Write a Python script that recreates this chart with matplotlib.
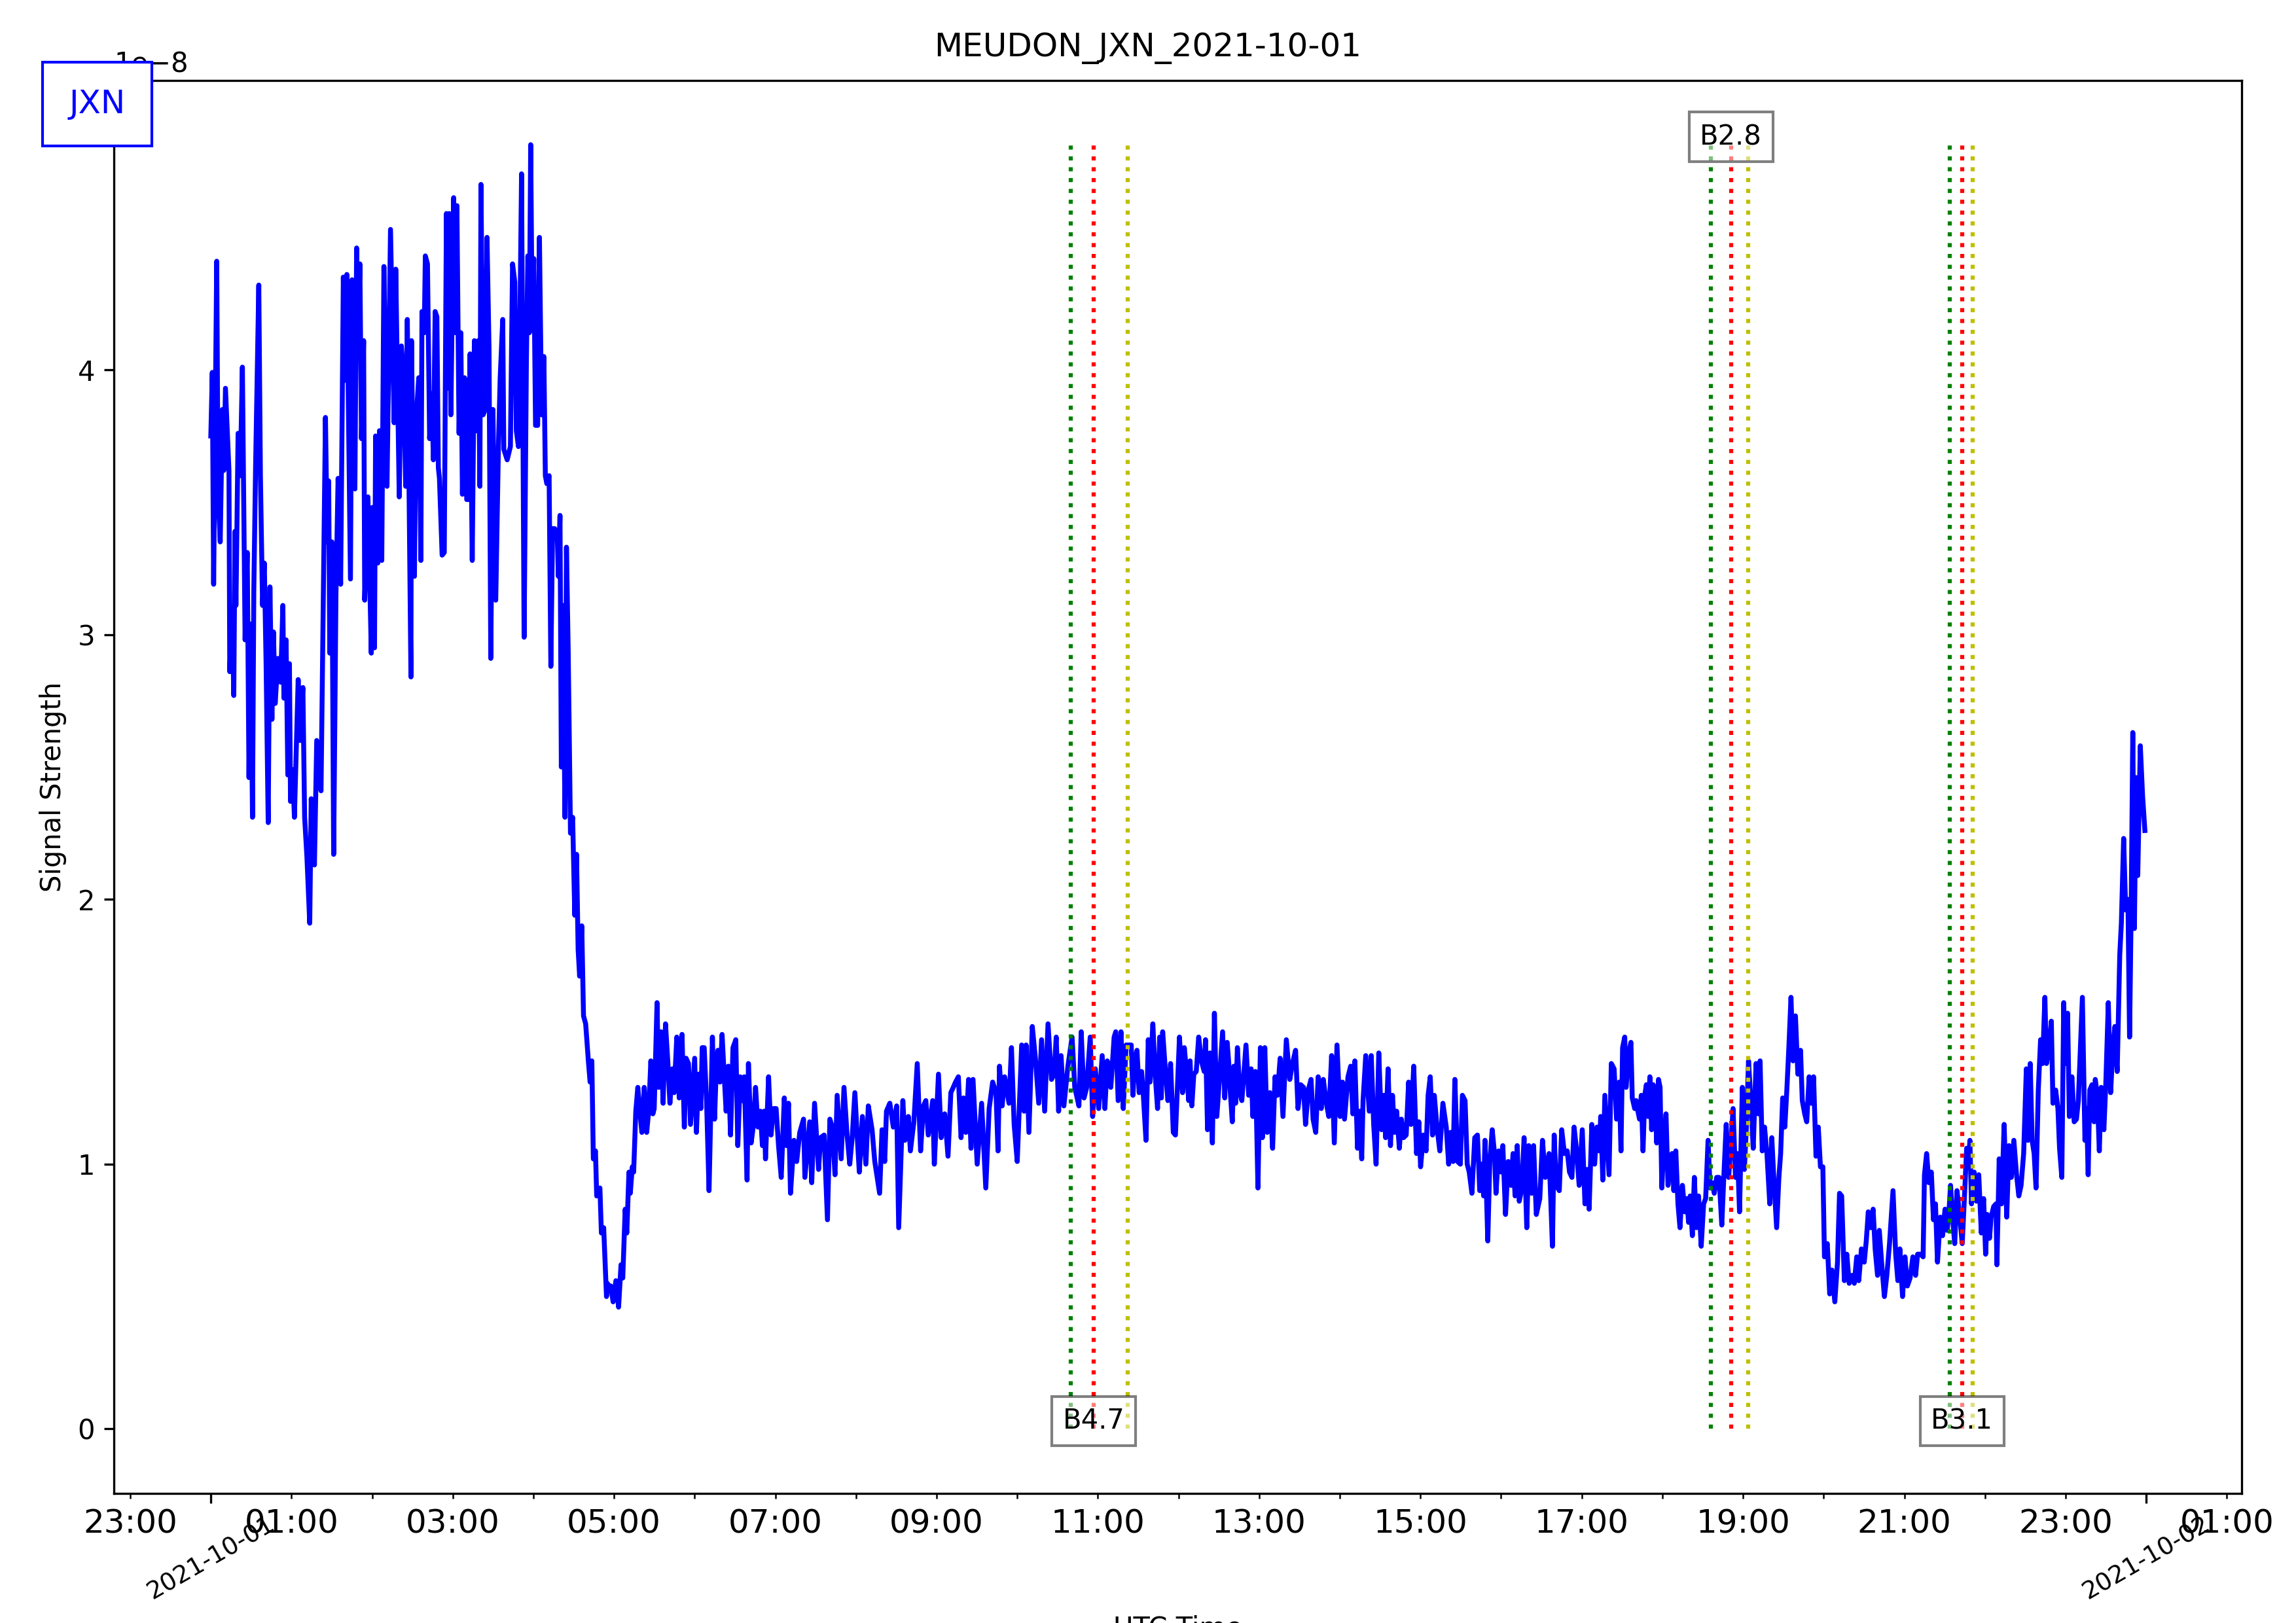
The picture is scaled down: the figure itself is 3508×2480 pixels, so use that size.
import matplotlib
matplotlib.use('Agg')
import matplotlib.pyplot as plt
import matplotlib.dates as mdates
from matplotlib.ticker import FuncFormatter
import numpy as np
import pandas as pd

day = '2021-10-01'
station = 'JXN'

# minutes after 00:00 UTC / signal (x1e-8) in pieces
# 00:00 - 02:30
min_a = [0.0, 1.1, 2.1, 4.4, 5.4, 7.0, 8.6, 9.7, 10.9, 13.5,
         14.1, 15.8, 17.1, 18.0, 18.7, 20.3, 21.9, 23.5, 25.5, 27.1,
         28.4, 29.7, 31.0, 32.0, 33.3, 35.7, 36.9, 38.5, 39.8, 41.1,
         42.7, 44.0, 45.5, 46.6, 47.9, 49.9, 52.0, 53.6, 54.4, 56.0,
         57.3, 58.5, 59.3, 60.9, 62.2, 65.0, 66.6, 68.5, 69.8, 71.5,
         73.6, 74.7, 77.1, 78.8, 82.0, 85.3, 86.6, 87.7, 88.5, 90.1,
         91.4, 93.1, 94.7, 96.6, 98.6, 100.2, 101.2, 103.9, 105.1, 107.2,
         108.5, 109.6, 110.9, 112.1, 113.7, 114.5, 116.9, 119.4, 120.2, 121.8,
         122.6, 124.2, 125.5, 127.2, 128.8, 131.1, 133.7, 136.4, 137.6, 140.2,
         141.8, 143.4, 145.0, 146.2, 148.9]
sig_a = [3.75, 3.99, 3.19, 4.41, 3.54, 3.35, 3.85, 3.62, 3.93, 3.62,
         2.86, 3.10, 2.77, 3.39, 3.11, 3.76, 3.60, 4.01, 2.98, 3.31,
         2.46, 3.04, 2.31, 3.17, 3.63, 4.32, 3.60, 3.11, 3.27, 2.90,
         2.29, 3.18, 2.68, 3.01, 2.74, 2.91, 2.82, 3.11, 2.76, 2.98,
         2.47, 2.89, 2.37, 2.49, 2.31, 2.83, 2.60, 2.80, 2.31, 2.16,
         1.91, 2.38, 2.13, 2.60, 2.41, 3.82, 3.35, 3.58, 2.93, 3.35,
         2.17, 3.15, 3.59, 3.19, 4.35, 3.96, 4.36, 3.21, 4.34, 3.55,
         4.46, 4.09, 4.40, 3.74, 4.11, 3.13, 3.52, 2.93, 3.48, 2.95,
         3.75, 3.27, 3.77, 3.28, 4.39, 3.56, 4.53, 3.80, 4.38, 3.52,
         4.09, 3.98, 3.56, 4.19, 2.84]

# 02:30 - 04:55 (sunrise drop)
min_b = [149.3, 151.5, 152.6, 154.7, 156.3, 157.1, 158.8, 159.6, 161.2, 162.8,
         164.4, 165.6, 166.9, 168.2, 169.3, 170.1, 172.1, 173.7, 175.3, 176.6,
         177.4, 178.6, 180.7, 181.8, 183.1, 184.7, 186.0, 187.2, 188.8, 190.4,
         191.6, 192.9, 194.5, 196.1, 197.7, 199.0, 200.2, 201.0, 202.6, 204.2,
         205.5, 207.0, 208.3, 209.9, 212.0, 214.0, 215.3, 217.2, 218.0, 220.5,
         222.9, 224.5, 226.2, 227.3, 228.9, 229.9, 231.2, 233.1, 234.8, 235.9,
         237.0, 238.0, 239.1, 240.3, 241.6, 243.2, 244.5, 246.1, 247.8, 248.9,
         250.0, 251.7, 253.0, 254.3, 255.9, 257.8, 258.6, 259.8, 260.8, 261.9,
         263.5, 264.6, 265.9, 267.6, 269.2, 270.8, 272.1, 273.3, 274.4, 276.0,
         277.3, 278.9, 280.9, 282.2, 283.5, 284.6, 286.2, 287.1, 289.5, 290.6,
         292.3, 294.4]
sig_b = [4.11, 3.22, 3.80, 3.97, 3.28, 4.22, 4.14, 4.43, 4.40, 3.74,
         3.91, 3.66, 4.22, 4.20, 3.63, 3.59, 3.30, 3.31, 4.59, 3.93,
         4.59, 3.83, 4.65, 4.14, 4.62, 3.76, 4.14, 3.53, 3.97, 3.51,
         3.51, 4.06, 3.28, 4.11, 3.77, 4.11, 3.56, 4.70, 3.83, 3.85,
         4.50, 4.08, 2.91, 3.85, 3.13, 3.71, 3.97, 4.19, 3.70, 3.66,
         3.71, 4.40, 4.33, 3.77, 3.71, 4.14, 4.74, 2.99, 4.03, 4.43,
         4.14, 4.85, 4.16, 4.42, 3.79, 3.79, 4.50, 3.83, 4.05, 3.60,
         3.57, 3.60, 2.88, 3.40, 3.40, 3.37, 3.22, 3.45, 2.50, 3.11,
         2.31, 3.33, 2.94, 2.25, 2.31, 1.94, 2.17, 1.81, 1.71, 1.90,
         1.56, 1.53, 1.39, 1.31, 1.39, 1.02, 1.05, 0.88, 0.91, 0.74,
         0.76, 0.50]

# 04:55 - 11:10
min_c = [295.0, 296.3, 297.6, 299.3, 301.4, 303.4, 305.2, 306.5, 308.3, 309.5,
         311.1, 312.1, 313.6, 314.6, 316.2, 317.7, 319.2, 320.7, 322.5, 324.3,
         325.8, 327.4, 328.9, 329.9, 332.0, 333.2, 335.0, 336.5, 338.3, 340.1,
         341.6, 343.4, 344.7, 346.7, 348.5, 350.6, 352.3, 353.6, 355.4, 356.9,
         360.0, 361.3, 363.0, 364.6, 365.6, 367.1, 368.9, 370.7, 373.2, 374.8,
         376.0, 377.3, 378.8, 380.4, 381.6, 383.4, 385.0, 386.7, 388.5, 390.6,
         392.1, 393.9, 395.6, 396.9, 399.0, 400.0, 402.0, 403.8, 405.3, 407.1,
         408.9, 410.4, 411.7, 412.7, 415.0, 416.8, 418.6, 420.6, 422.4, 424.4,
         426.7, 428.3, 429.8, 431.3, 433.9, 435.9, 438.2, 441.0, 442.0, 445.6,
         447.1, 449.2, 452.2, 453.7, 456.3, 458.8, 460.6, 462.4, 464.4, 466.0,
         469.0, 471.1, 473.4, 475.4, 477.2, 479.2, 481.0, 482.5, 484.8, 487.4,
         489.2, 492.0, 494.0, 497.6, 499.4, 501.4, 502.7, 505.2, 507.8, 510.3,
         511.8, 514.9, 516.4, 519.0, 520.5, 523.1, 525.6, 528.1, 530.2, 532.0,
         533.8, 537.1, 538.3, 541.4, 543.4, 546.0, 548.5, 550.6, 552.4, 554.1,
         556.2, 558.2, 560.0, 561.8, 563.8, 565.6, 567.1, 570.2, 573.5, 576.6,
         579.1, 581.7, 584.2, 585.7, 586.8, 588.8, 590.6, 593.9, 595.7, 597.7,
         600.0, 602.0, 603.3, 605.1, 606.6, 608.7, 611.2, 613.5, 616.0, 618.1,
         620.4, 622.9, 625.5, 627.5, 629.0, 630.8, 632.6, 634.7, 637.7, 640.8,
         642.8, 645.9, 647.6, 649.7, 651.7, 654.3, 656.1, 658.1, 660.6, 663.2,
         665.2, 667.0, 669.6]
sig_c = [0.55, 0.54, 0.54, 0.48, 0.56, 0.46, 0.62, 0.57, 0.83, 0.74,
         0.97, 0.89, 0.99, 0.97, 1.20, 1.29, 1.20, 1.12, 1.29, 1.12,
         1.20, 1.39, 1.19, 1.21, 1.61, 1.29, 1.50, 1.23, 1.53, 1.38,
         1.23, 1.36, 1.27, 1.48, 1.25, 1.49, 1.14, 1.40, 1.38, 1.15,
         1.40, 1.12, 1.34, 1.21, 1.44, 1.44, 1.23, 0.90, 1.48, 1.17,
         1.35, 1.43, 1.31, 1.49, 1.37, 1.20, 1.37, 1.11, 1.44, 1.47,
         1.07, 1.33, 1.24, 1.33, 0.94, 1.38, 1.08, 1.15, 1.29, 1.14,
         1.20, 1.07, 1.20, 1.02, 1.33, 1.11, 1.21, 1.21, 1.07, 0.95,
         1.25, 1.07, 1.23, 0.89, 1.09, 1.01, 1.12, 1.17, 0.95, 1.16,
         0.93, 1.23, 0.98, 1.10, 1.11, 0.79, 1.17, 1.14, 0.96, 1.26,
         1.02, 1.29, 1.11, 1.00, 1.10, 1.27, 1.10, 0.97, 1.18, 1.00,
         1.22, 1.13, 1.01, 0.89, 1.13, 1.01, 1.20, 1.23, 1.14, 1.22,
         0.76, 1.24, 1.09, 1.18, 1.05, 1.16, 1.38, 1.05, 1.22, 1.24,
         1.11, 1.24, 1.00, 1.34, 1.10, 1.19, 1.03, 1.27, 1.29, 1.31,
         1.33, 1.10, 1.25, 1.12, 1.32, 1.06, 1.32, 1.00, 1.23, 0.91,
         1.21, 1.31, 1.27, 1.05, 1.37, 1.22, 1.33, 1.23, 1.44, 1.15,
         1.01, 1.28, 1.45, 1.20, 1.45, 1.12, 1.52, 1.40, 1.23, 1.47,
         1.20, 1.53, 1.32, 1.34, 1.48, 1.20, 1.41, 1.22, 1.37, 1.48,
         1.29, 1.22, 1.50, 1.25, 1.29, 1.48, 1.18, 1.36, 1.21, 1.41,
         1.21, 1.39, 1.29]

# 11:10 - 17:40
min_d = [670.3, 672.1, 673.3, 675.1, 677.2, 678.9, 681.0, 683.0, 684.8, 686.1,
         687.4, 689.1, 690.7, 692.5, 693.7, 695.8, 697.5, 698.8, 700.9, 702.6,
         704.4, 706.0, 707.2, 708.2, 710.3, 712.1, 714.1, 716.1, 717.7, 719.2,
         720.7, 723.0, 724.3, 726.3, 727.6, 728.6, 729.9, 731.4, 733.2, 735.0,
         737.0, 739.1, 740.1, 741.6, 743.4, 745.2, 746.7, 748.5, 750.3, 752.8,
         754.4, 756.2, 757.4, 758.7, 760.0, 761.2, 762.5, 763.8, 765.6, 767.1,
         768.9, 770.2, 772.2, 774.0, 775.3, 777.3, 779.1, 780.9, 782.4, 784.2,
         786.0, 788.0, 790.0, 791.8, 793.6, 795.6, 797.7, 800.2, 802.8, 804.8,
         807.1, 808.9, 810.9, 813.0, 814.5, 816.5, 818.6, 820.1, 822.1, 823.9,
         826.2, 827.7, 830.0, 831.8, 833.9, 835.9, 837.9, 840.2, 842.0, 843.5,
         846.1, 848.1, 849.7, 851.2, 853.2, 854.8, 856.3, 857.3, 859.3, 861.9,
         863.4, 865.2, 867.0, 869.0, 871.1, 872.8, 874.1, 875.9, 877.7, 879.2,
         880.7, 882.3, 884.3, 885.8, 887.4, 889.4, 891.2, 893.0, 895.0, 897.1,
         898.8, 900.1, 902.2, 904.2, 905.7, 907.3, 909.0, 910.3, 912.3, 914.4,
         916.7, 919.2, 921.0, 922.5, 924.3, 925.6, 927.6, 929.7, 931.2, 933.2,
         934.8, 936.3, 938.3, 940.4, 942.4, 944.1, 945.5, 947.0, 948.0, 950.1,
         951.6, 953.4, 955.1, 956.2, 958.2, 960.2, 961.3, 963.3, 965.3, 967.4,
         968.9, 970.4, 972.0, 973.5, 975.5, 977.1, 979.1, 980.6, 982.7, 984.2,
         986.2, 988.8, 990.8, 992.9, 995.7, 998.2, 999.5, 1001.0, 1003.3, 1005.1,
         1007.1, 1009.2, 1010.9, 1012.7, 1014.3, 1016.0, 1018.1, 1020.4, 1022.4, 1024.0,
         1025.5, 1027.5, 1029.6, 1031.3, 1033.1, 1034.1, 1035.7, 1037.2, 1040.3, 1042.0,
         1044.1, 1045.9, 1047.9, 1049.2, 1050.4, 1052.0, 1053.0, 1055.0, 1056.6, 1057.6,
         1059.4]
sig_d = [1.34, 1.48, 1.50, 1.24, 1.50, 1.21, 1.45, 1.45, 1.45, 1.26,
         1.39, 1.43, 1.27, 1.35, 1.27, 1.09, 1.47, 1.31, 1.53, 1.34,
         1.21, 1.48, 1.25, 1.50, 1.35, 1.24, 1.38, 1.12, 1.11, 1.29,
         1.48, 1.27, 1.44, 1.33, 1.24, 1.39, 1.22, 1.34, 1.35, 1.48,
         1.39, 1.35, 1.47, 1.13, 1.42, 1.08, 1.57, 1.18, 1.31, 1.50,
         1.25, 1.46, 1.38, 1.26, 1.16, 1.37, 1.23, 1.44, 1.27, 1.24,
         1.36, 1.45, 1.26, 1.36, 1.18, 1.35, 0.91, 1.44, 1.10, 1.44,
         1.12, 1.27, 1.06, 1.33, 1.26, 1.40, 1.18, 1.47, 1.32, 1.38,
         1.43, 1.21, 1.30, 1.29, 1.15, 1.28, 1.32, 1.17, 1.12, 1.33,
         1.21, 1.32, 1.23, 1.18, 1.41, 1.08, 1.45, 1.18, 1.31, 1.17,
         1.33, 1.37, 1.19, 1.39, 1.06, 1.20, 1.02, 1.24, 1.41, 1.20,
         1.41, 1.15, 1.00, 1.42, 1.13, 1.26, 1.10, 1.36, 1.07, 1.26,
         1.12, 1.20, 1.06, 1.17, 1.10, 1.11, 1.31, 1.15, 1.37, 1.04,
         1.16, 0.99, 1.11, 1.05, 1.26, 1.33, 1.11, 1.26, 1.14, 1.05,
         1.23, 1.14, 1.00, 1.12, 1.01, 1.32, 1.01, 1.00, 1.26, 1.24,
         1.00, 0.97, 0.89, 1.10, 1.11, 0.90, 1.00, 0.88, 1.09, 0.71,
         1.01, 1.13, 1.04, 0.89, 1.05, 0.97, 1.07, 0.81, 1.01, 0.92,
         1.04, 0.88, 1.07, 0.86, 0.91, 1.10, 0.76, 1.07, 0.89, 1.07,
         0.81, 0.87, 1.09, 0.95, 1.04, 0.69, 1.11, 0.92, 0.90, 1.13,
         1.04, 1.05, 0.97, 0.95, 1.14, 1.06, 0.92, 1.13, 0.85, 0.98,
         0.83, 1.15, 1.00, 1.14, 1.05, 1.18, 0.94, 1.26, 0.96, 1.38,
         1.36, 1.17, 1.31, 1.05, 1.44, 1.48, 1.29, 1.42, 1.46, 1.25,
         1.21]

# 17:40 - 24:00
min_e = [1060.5, 1061.8, 1063.0, 1064.3, 1065.6, 1066.9, 1068.1, 1069.4, 1070.7, 1072.0,
         1073.2, 1074.5, 1075.8, 1077.1, 1078.3, 1079.6, 1080.9, 1082.7, 1084.2, 1086.0,
         1087.2, 1088.5, 1090.0, 1091.6, 1093.1, 1094.9, 1096.7, 1098.2, 1099.5, 1100.7,
         1102.3, 1103.8, 1105.3, 1106.9, 1108.9, 1110.7, 1112.2, 1114.0, 1115.5, 1117.1,
         1118.6, 1120.4, 1122.2, 1124.2, 1125.7, 1127.5, 1129.3, 1130.8, 1132.6, 1134.4,
         1135.9, 1137.4, 1139.5, 1141.0, 1142.5, 1144.1, 1145.8, 1147.6, 1149.7, 1151.5,
         1152.7, 1154.3, 1156.0, 1157.8, 1159.9, 1161.4, 1162.9, 1165.0, 1166.7, 1168.0,
         1169.5, 1171.1, 1172.6, 1174.1, 1175.7, 1177.2, 1179.0, 1180.8, 1182.8, 1184.1,
         1185.9, 1187.4, 1189.2, 1191.0, 1192.5, 1194.3, 1196.0, 1197.6, 1199.4, 1200.6,
         1202.7, 1204.5, 1206.2, 1208.3, 1210.3, 1211.8, 1213.4, 1215.4, 1217.2, 1219.0,
         1221.0, 1222.8, 1224.6, 1226.1, 1228.1, 1230.2, 1231.7, 1233.2, 1235.0, 1236.8,
         1238.3, 1240.1, 1241.4, 1243.4, 1245.2, 1247.0, 1249.0, 1251.6, 1253.6, 1255.2,
         1256.7, 1258.7, 1260.5, 1262.3, 1264.3, 1266.4, 1268.4, 1269.9, 1272.0, 1274.0,
         1275.0, 1276.6, 1278.3, 1280.1, 1281.7, 1283.2, 1284.7, 1286.8, 1288.5, 1290.3,
         1291.9, 1293.1, 1294.4, 1296.2, 1297.5, 1299.2, 1301.3, 1303.1, 1304.6, 1306.4,
         1307.6, 1308.8, 1310.0, 1312.0, 1313.7, 1315.4, 1317.3, 1319.0, 1320.5, 1321.7,
         1323.4, 1324.6, 1326.5, 1328.2, 1328.9, 1330.6, 1332.3, 1334.3, 1336.2, 1337.9,
         1339.6, 1341.5, 1343.5, 1345.2, 1346.9, 1348.8, 1350.8, 1352.0, 1353.7, 1355.1,
         1356.6, 1358.0, 1359.7, 1361.4, 1362.9, 1364.6, 1365.8, 1367.7, 1369.4, 1370.6,
         1372.6, 1374.3, 1375.5, 1377.2, 1378.6, 1379.8, 1381.5, 1382.8, 1384.7, 1386.4,
         1388.1, 1389.5, 1391.2, 1392.5, 1394.4, 1395.6, 1396.8, 1398.0, 1399.7, 1401.2,
         1402.1, 1403.6, 1405.1, 1406.5, 1408.5, 1409.9, 1411.8, 1413.5, 1415.2, 1416.7,
         1418.4, 1420.3, 1421.5, 1423.2, 1424.7, 1426.4, 1427.6, 1428.8, 1430.0, 1431.2,
         1432.5, 1433.7, 1435.6, 1437.3, 1439.0]
sig_e = [1.24, 1.20, 1.17, 1.26, 1.05, 1.26, 1.30, 1.18, 1.33, 1.13,
         1.30, 1.25, 1.08, 1.32, 1.29, 0.91, 1.06, 1.19, 0.92, 1.03,
         1.04, 0.90, 1.05, 0.85, 0.76, 0.92, 0.82, 0.87, 0.78, 0.88,
         0.73, 0.95, 0.76, 0.88, 0.69, 0.85, 0.87, 1.09, 0.91, 0.93,
         0.89, 0.95, 0.95, 0.77, 0.95, 1.15, 0.95, 1.06, 1.21, 0.95,
         1.04, 0.82, 1.29, 0.98, 1.14, 1.39, 1.24, 1.06, 1.38, 1.19,
         1.39, 1.05, 1.14, 1.04, 0.85, 1.10, 0.95, 0.76, 0.95, 1.04,
         1.25, 1.14, 1.28, 1.44, 1.63, 1.39, 1.56, 1.34, 1.43, 1.24,
         1.19, 1.16, 1.33, 1.23, 1.33, 1.03, 1.14, 0.99, 0.99, 0.65,
         0.70, 0.51, 0.60, 0.48, 0.63, 0.89, 0.88, 0.56, 0.66, 0.55,
         0.58, 0.55, 0.65, 0.56, 0.68, 0.63, 0.71, 0.82, 0.76, 0.83,
         0.68, 0.58, 0.75, 0.61, 0.50, 0.58, 0.70, 0.90, 0.66, 0.56,
         0.68, 0.50, 0.65, 0.54, 0.57, 0.65, 0.58, 0.66, 0.66, 0.65,
         0.96, 1.04, 0.93, 0.97, 0.79, 0.85, 0.63, 0.80, 0.73, 0.83,
         0.75, 0.81, 0.92, 0.78, 0.70, 0.90, 0.80, 0.70, 0.86, 1.06,
         0.99, 1.09, 0.85, 0.97, 0.86, 0.96, 0.74, 0.87, 0.66, 0.81,
         0.72, 0.80, 0.84, 0.85, 0.62, 1.02, 0.85, 1.15, 0.80, 1.07,
         0.95, 1.09, 0.96, 0.88, 0.92, 1.04, 1.36, 1.09, 1.38, 1.09,
         1.04, 0.91, 1.28, 1.47, 1.38, 1.63, 1.38, 1.44, 1.54, 1.23,
         1.28, 1.21, 1.06, 0.95, 1.61, 1.38, 1.57, 1.18, 1.33, 1.16,
         1.17, 1.24, 1.46, 1.63, 1.09, 1.21, 0.96, 1.28, 1.30, 1.16,
         1.32, 1.26, 1.05, 1.29, 1.13, 1.30, 1.61, 1.27, 1.44, 1.52,
         1.35, 1.79, 1.91, 2.23, 1.96, 2.00, 1.48, 1.96, 2.63, 1.89,
         2.46, 2.09, 2.58, 2.39, 2.26]

# GOES flares of the day
flare_class = ['B4.7', 'B2.8', 'B3.1']
flare_start = ['10:40', '18:36', '21:34']
flare_peak = ['10:57', '18:51', '21:43']
flare_end = ['11:22', '19:04', '21:51']

minutes = min_a + min_b + min_c + min_d + min_e
signal = np.array(sig_a + sig_b + sig_c + sig_d + sig_e) * 1e-8
times = pd.Timestamp(day) + pd.to_timedelta(minutes, unit='min')
x = mdates.date2num(times.to_pydatetime())

fig, ax = plt.subplots(figsize=(3508 / 300, 2480 / 300), dpi=300)
fig.subplots_adjust(left=0.0497, right=0.9763, bottom=0.080, top=0.9504)

ax.plot(x, signal, 'b-', linewidth=1.8)

top = signal.max()
for i in range(len(flare_class)):
    t_start = mdates.date2num(pd.Timestamp(day + ' ' + flare_start[i]).to_pydatetime())
    t_peak = mdates.date2num(pd.Timestamp(day + ' ' + flare_peak[i]).to_pydatetime())
    t_end = mdates.date2num(pd.Timestamp(day + ' ' + flare_end[i]).to_pydatetime())
    ax.plot([t_start, t_start], [0, top], 'g:', linewidth=1.5)
    ax.plot([t_peak, t_peak], [0, top], 'r:', linewidth=1.5)
    ax.plot([t_end, t_end], [0, top], 'y:', linewidth=1.5)
    # alternate label position so neighbouring labels do not collide
    y_lab = 0 if i % 2 == 0 else top
    ax.text(t_peak, y_lab, flare_class[i], ha='center',
            bbox=dict(facecolor='white', alpha=0.5))


def odd_hours(val, pos):
    d = mdates.num2date(val + 1e-6)
    if d.hour % 2 == 1:
        return d.strftime('%H:%M')
    return ''


ax.xaxis.set_major_locator(mdates.DayLocator())
ax.xaxis.set_major_formatter(mdates.DateFormatter('%Y-%m-%d'))
ax.xaxis.set_minor_locator(mdates.HourLocator())
ax.xaxis.set_minor_formatter(FuncFormatter(odd_hours))
ax.tick_params(axis='x', which='major', labelrotation=30, labelsize=9)
ax.tick_params(axis='x', which='minor', labelsize=12)

fig.suptitle('MEUDON_' + station + '_' + day)
ax.set_ylabel('Signal Strength')
ax.set_xlabel('UTC Time')

fig.text(0.0423, 0.9359, station, color='blue', fontsize=12, ha='center', va='center',
         bbox=dict(boxstyle='square,pad=0.8', facecolor='white', edgecolor='blue'))

fig.savefig('out.png', dpi=300)
